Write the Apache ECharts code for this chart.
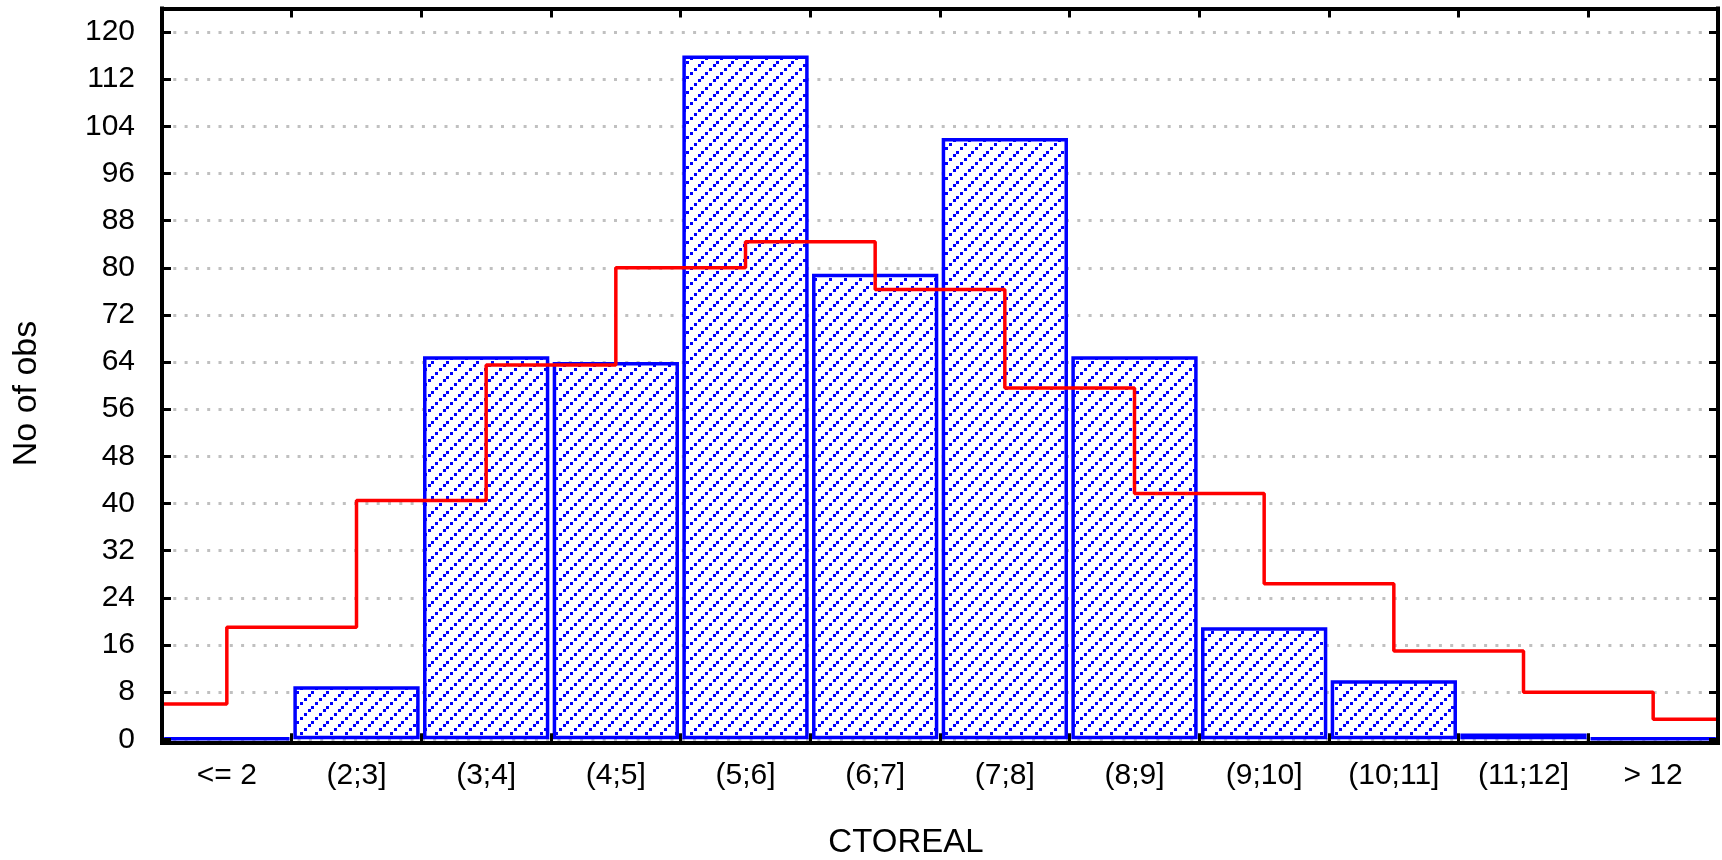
<!DOCTYPE html>
<html>
<head>
<meta charset="utf-8">
<script src="https://cdn.jsdelivr.net/npm/echarts@6/dist/echarts.min.js"></script>
<style>
  html, body { margin: 0; padding: 0; background: #fff; }
  #chart { width: 1722px; height: 860px; }
</style>
</head>
<body>
<div id="chart"></div>
<script>
// Histogram of CTOREAL with the expected normal frequencies
const categories = ['<= 2', '(2;3]', '(3;4]', '(4;5]', '(5;6]', '(6;7]', '(7;8]', '(8;9]', '(9;10]', '(10;11]', '(11;12]', '> 12'];
const observed = [0, 9, 65, 64, 116, 79, 102, 65, 19, 10, 1, 0];
// expected-normal step levels: first and last cover half a class, the rest run centre to centre
const expected = [6, 19, 40.5, 63.5, 80, 84.4, 76.3, 59.6, 41.7, 26.4, 15, 8, 3.4];
const yMin = 0, yMax = 124, yStep = 8;
const xTitle = 'CTOREAL';
const yTitle = 'No of obs';

const FONT = '"Liberation Sans", Arial, sans-serif';
const BLUE = '#0000ff';

// diagonal dotted hatch used to fill the bars
function hatchTile() {
  const c = document.createElement('canvas');
  c.width = 15; c.height = 15;
  const g = c.getContext('2d');
  g.fillStyle = '#ffffff';
  g.fillRect(0, 0, 15, 15);
  g.fillStyle = BLUE;
  [[0, 12], [4, 8], [8, 4], [11, 1]].forEach(([x, y]) => g.fillRect(x, y, 3, 3));
  return c;
}

// step line on a class-index axis (class k spans [k, k+1])
const stepPoints = [[0, expected[0]]];
for (let k = 1; k < expected.length; k++) stepPoints.push([k - 0.5, expected[k]]);
stepPoints.push([categories.length, expected[expected.length - 1]]);

// black frame: each side is an axis line with short inward ticks
function frameLine() {
  return { show: true, onZero: false, lineStyle: { color: '#000000', width: 4, cap: 'square' } };
}
function frameTick() {
  return { show: true, inside: true, length: 9, lineStyle: { color: '#000000', width: 3 } };
}

const chart = echarts.init(document.getElementById('chart'), null, { renderer: 'canvas' });
chart.setOption({
  animation: false,
  backgroundColor: '#ffffff',
  grid: { left: 162, right: 4, top: 8.4, bottom: 120.7, containLabel: false },
  xAxis: [
    {
      type: 'category', data: categories, position: 'bottom', offset: 3, z: 5,
      boundaryGap: true,
      axisLine: frameLine(), axisTick: frameTick(),
      axisLabel: { color: '#000', fontFamily: FONT, fontSize: 30, margin: 18 },
      splitLine: { show: false }
    },
    {
      type: 'category', data: categories, position: 'top', z: 5,
      boundaryGap: true,
      axisLine: frameLine(), axisTick: frameTick(),
      axisLabel: { show: false }, splitLine: { show: false }
    },
    { type: 'value', min: 0, max: categories.length, show: false }
  ],
  yAxis: [
    {
      type: 'value', min: yMin, max: yMax, interval: yStep, position: 'left', z: 0,
      axisLine: { show: false }, axisTick: { show: false },
      axisLabel: { color: '#000', fontFamily: FONT, fontSize: 30, margin: 27, showMaxLabel: false },
      splitLine: { show: true, lineStyle: { color: '#c0c0c0', width: 3, type: [3, 8.3] } }
    },
    {
      type: 'value', min: yMin, max: yMax, interval: yStep, position: 'left', z: 5,
      axisLine: frameLine(), axisTick: frameTick(),
      axisLabel: { show: false }, splitLine: { show: false }
    },
    {
      type: 'value', min: yMin, max: yMax, interval: yStep, position: 'right', z: 5,
      axisLine: frameLine(), axisTick: frameTick(),
      axisLabel: { show: false }, splitLine: { show: false }
    }
  ],
  series: [
    {
      type: 'bar', xAxisIndex: 0, yAxisIndex: 0,
      data: observed,
      barCategoryGap: '2.6%',
      barMinHeight: 1,
      itemStyle: {
        color: { image: hatchTile(), repeat: 'repeat' },
        borderColor: BLUE, borderWidth: 3.5
      },
      emphasis: { disabled: true },
      z: 2
    },
    {
      type: 'line', xAxisIndex: 2, yAxisIndex: 0,
      data: stepPoints, step: 'end',
      symbol: 'none',
      lineStyle: { color: '#ff0000', width: 3.5 },
      emphasis: { disabled: true },
      z: 3
    }
  ],
  graphic: [
    {
      type: 'text', x: 906, y: 843,
      style: { text: xTitle, font: '33px ' + FONT, fill: '#000', align: 'center', verticalAlign: 'middle' }
    },
    {
      type: 'text', x: 27, y: 393.5, rotation: Math.PI / 2,
      style: { text: yTitle, font: '34px ' + FONT, fill: '#000', align: 'center', verticalAlign: 'middle' }
    }
  ]
});
</script>
</body>
</html>
